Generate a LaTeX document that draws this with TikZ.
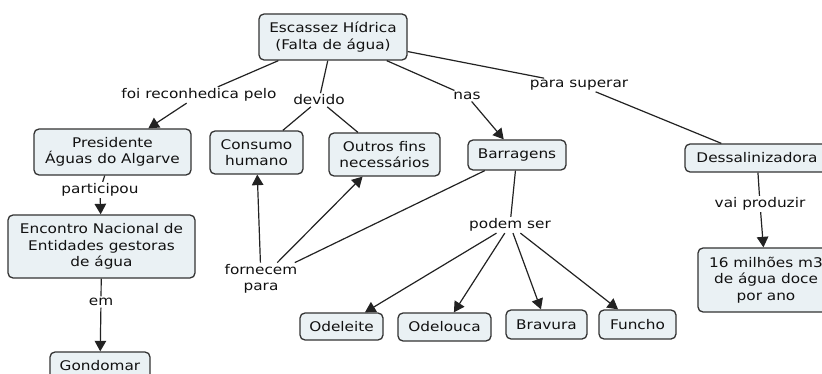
\documentclass[tikz,border=0pt]{standalone}
\usepackage{fontspec}
\setmainfont{DejaVu Sans}[FakeStretch=1.15]
\usetikzlibrary{arrows.meta}
\definecolor{boxfill}{HTML}{EAF1F4}
\definecolor{edge}{HTML}{222222}
\definecolor{boxedge}{HTML}{333333}
\definecolor{txt}{HTML}{111111}
\begin{document}
\begin{tikzpicture}[x=1pt,y=-1pt,
  font=\fontsize{13.3}{16.5}\selectfont,
  concept/.style={draw=boxedge, fill=boxfill, line width=1.3pt, rounded corners=5pt,
    align=center, inner sep=0pt, text=txt},
  lbl/.style={align=center, inner sep=1.5pt, text=txt},
  link/.style={draw=edge, line width=1.2pt},
  arr/.style={link, -{Triangle[length=10.5pt,width=11.5pt]}}]
\useasboundingbox (0,0) rectangle (822,374);
% concepts
\node[concept, minimum width=148, minimum height=46] (esc) at (333,37) {Escassez Hídrica\\(Falta de água)};
\node[concept, minimum width=157, minimum height=46] (pres) at (112.5,152) {Presidente\\Águas do Algarve};
\node[concept, minimum width=93, minimum height=43] (cons) at (256.5,152.5) {Consumo\\humano};
\node[concept, minimum width=111, minimum height=43] (outr) at (384.5,154.5) {Outros fins\\necessários};
\node[concept, minimum width=98, minimum height=30] (barr) at (517,155) {Barragens};
\node[concept, minimum width=144, minimum height=28] (dess) at (757,158) {Dessalinizadora};
\node[concept, minimum width=187, minimum height=63] (enc) at (101.5,246.5) {Encontro Nacional de\\Entidades gestoras\\de água};
\node[concept, minimum width=100, minimum height=28] (gond) at (100,366) {Gondomar};
\node[concept, minimum width=83, minimum height=27] (odel) at (341.5,326.5) {Odeleite};
\node[concept, minimum width=93, minimum height=28] (odlc) at (444.5,327) {Odelouca};
\node[concept, minimum width=81, minimum height=29] (brav) at (546.5,324.5) {Bravura};
\node[concept, minimum width=77, minimum height=29] (func) at (637.5,324.5) {Funcho};
\node[concept, minimum width=136, minimum height=64] (mil) at (766,280) {16 milhões m3\\de água doce\\por ano};
% linking phrases
\node[lbl] (foi) at (199,95) {foi reconhedica pelo};
\node[lbl] (dev) at (319,100) {devido};
\node[lbl] (nas) at (467,96) {nas};
\node[lbl] (psup) at (579,85) {para superar};
\node[lbl] (part) at (100,190) {participou};
\node[lbl] (em) at (101,302) {em};
\node[lbl] (forn) at (261,279) {fornecem\\para};
\node[lbl] (pod) at (510,225) {podem ser};
\node[lbl] (vai) at (760,204) {vai produzir};
% connectors
\draw[link] (esc) -- (foi);
\draw[arr] (foi) -- (pres);
\draw[link] (esc) -- (dev);
\draw[link] (dev) -- (cons);
\draw[link] (dev) -- (outr);
\draw[link] (esc) -- (nas);
\draw[arr] (nas) -- (barr);
\draw[link] (esc) -- (psup);
\draw[link] (psup) -- (dess);
\draw[link] (pres) -- (part);
\draw[arr] (part) -- (enc);
\draw[link] (enc) -- (em);
\draw[arr] (em) -- (gond);
\draw[link] (barr) -- (forn);
\draw[arr] (forn) -- (cons);
\draw[arr] (forn) -- (outr);
\draw[link] (barr) -- (pod);
\draw[arr] (pod) -- (odel);
\draw[arr] (pod) -- (odlc);
\draw[arr] (pod) -- (brav);
\draw[arr] (pod) -- (func);
\draw[link] (dess) -- (vai);
\draw[arr] (vai) -- (mil);
\end{tikzpicture}
\end{document}
